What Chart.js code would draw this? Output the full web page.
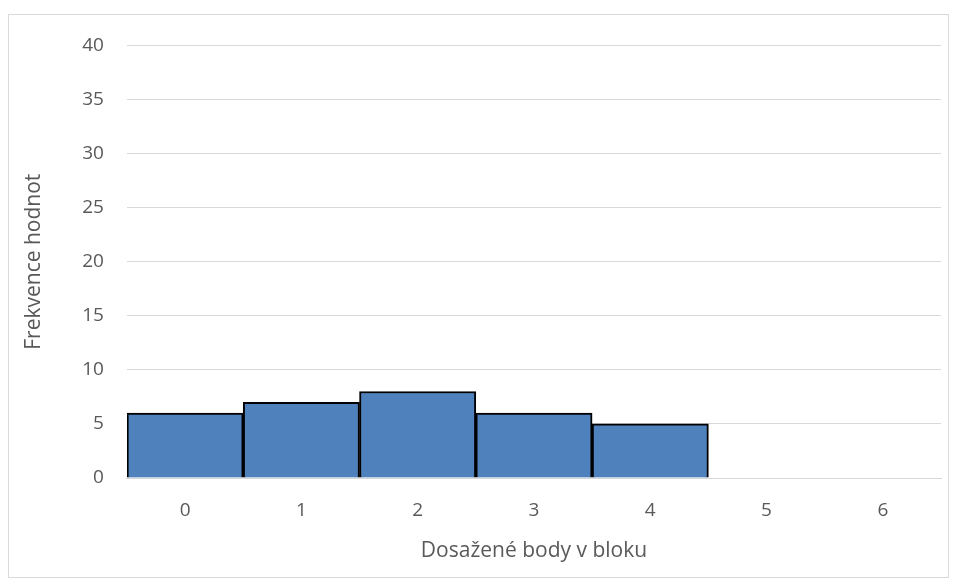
<!DOCTYPE html>
<html>
<head>
<meta charset="utf-8">
<script src="https://cdn.jsdelivr.net/npm/chart.js@4"></script>
<style>
  body { margin: 0; background: #fff; }
  #frame {
    position: absolute; left: 8px; top: 14px;
    width: 941px; height: 564px;
    border: 1px solid #d9d9d9; box-sizing: border-box;
  }
  #wrap {
    position: absolute; left: 9px; top: 11px;
    width: 939px; height: 561px;
  }
</style>
</head>
<body>
<div id="frame"></div>
<div id="wrap"><canvas id="chart"></canvas></div>
<script>
const categories = ["0", "1", "2", "3", "4", "5", "6"];
const frequencies = [6, 7, 8, 6, 5, 0, 0];
const yTicks = [0, 5, 10, 15, 20, 25, 30, 35, 40];

const font = "Open Sans, Calibri, sans-serif";
const textColor = "#595959";

new Chart(document.getElementById("chart"), {
  type: "bar",
  data: {
    labels: categories,
    datasets: [
      {
        data: frequencies,
        backgroundColor: "#4f81bd",
        borderColor: "#000000",
        borderWidth: 2,
        borderSkipped: "bottom",
        categoryPercentage: 1,
        barPercentage: 1
      }
    ]
  },
  options: {
    responsive: true,
    maintainAspectRatio: false,
    animation: false,
    events: [],
    layout: { padding: { left: 12, right: 7, top: 7, bottom: 8 } },
    plugins: { legend: { display: false }, tooltip: { enabled: false } },
    scales: {
      x: {
        grid: { display: false, drawTicks: false },
        border: { color: "#d9d9d9", width: 1 },
        ticks: { color: textColor, font: { family: font, size: 19 }, padding: 21 },
        title: {
          display: true,
          text: "Dosažené body v bloku",
          color: textColor,
          font: { family: font, size: 21 },
          padding: { top: -4, bottom: 0 }
        }
      },
      y: {
        min: 0,
        max: 40,
        afterBuildTicks: (axis) => { axis.ticks = yTicks.map((v) => ({ value: v })); },
        grid: { color: "#d9d9d9", drawTicks: false },
        border: { display: false },
        ticks: { color: textColor, font: { family: font, size: 19 }, padding: 23 },
        title: {
          display: true,
          text: "Frekvence hodnot",
          color: textColor,
          font: { family: font, size: 21 },
          padding: { top: 0, bottom: 13 }
        }
      }
    }
  }
});
</script>
</body>
</html>
